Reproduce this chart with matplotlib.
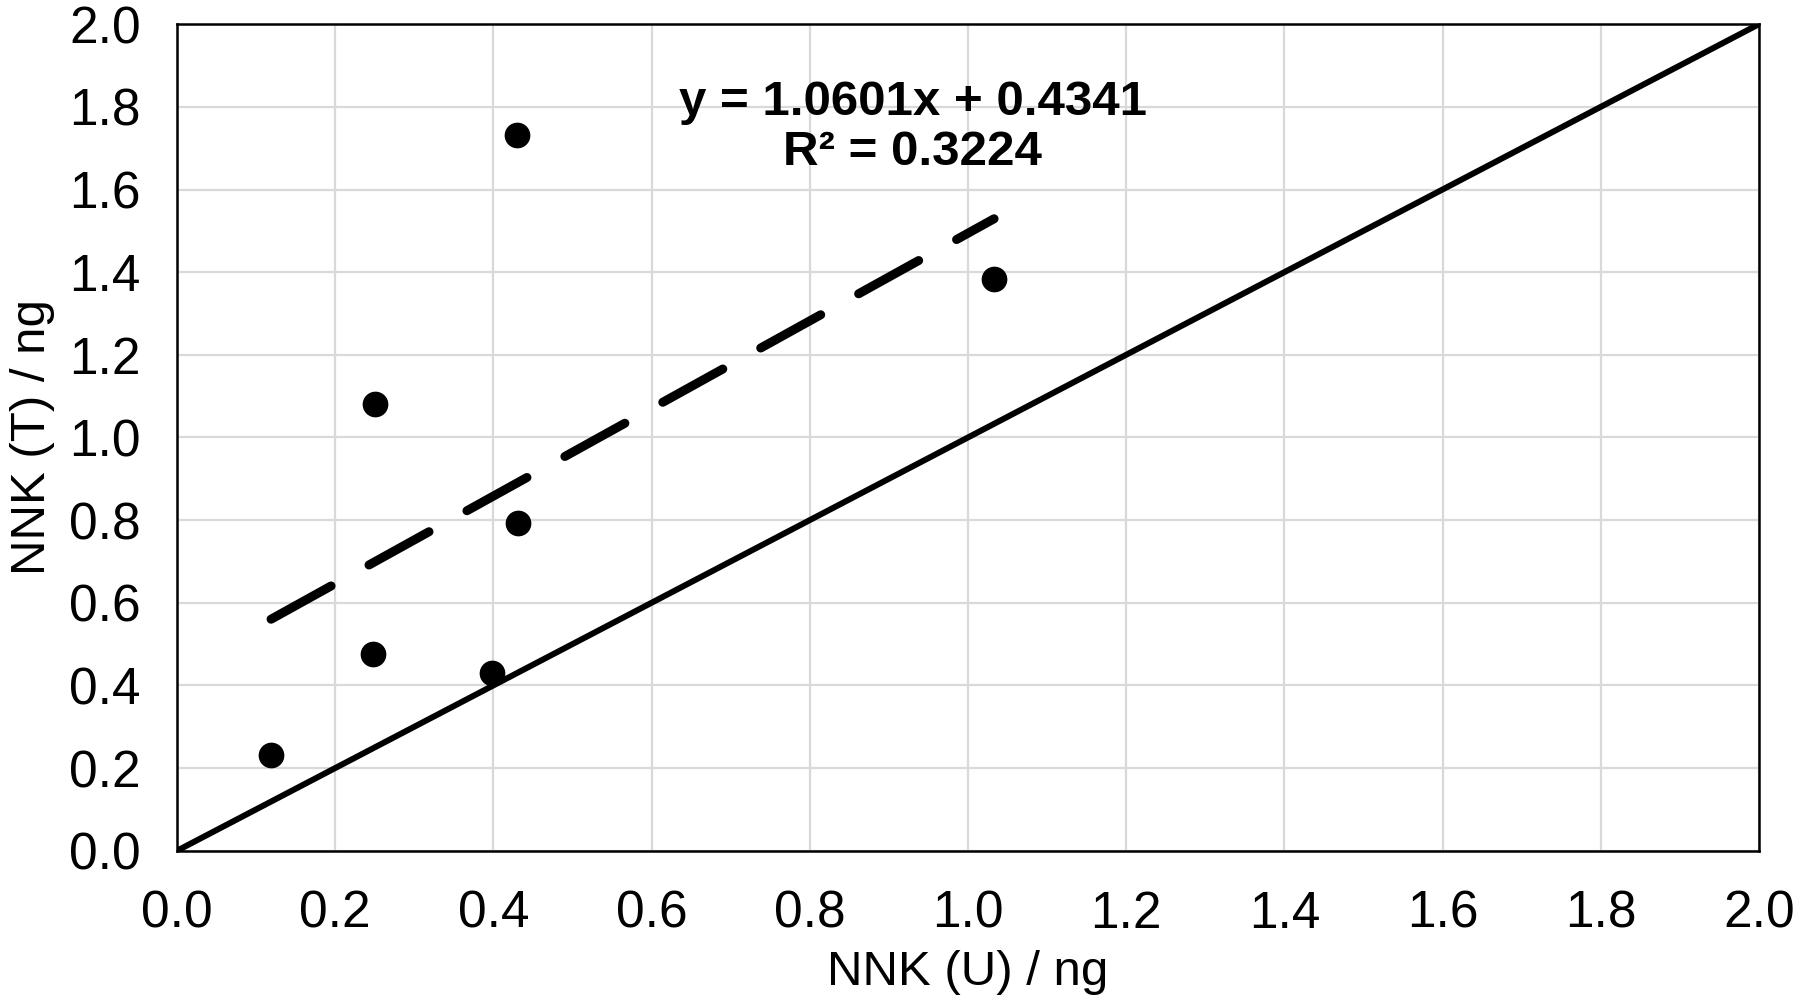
"""NNK (T) vs NNK (U) scatter with linear trendline and 1:1 line."""

import matplotlib

matplotlib.use("Agg")
import matplotlib.pyplot as plt
import numpy as np

plt.rcParams["font.family"] = ["Liberation Sans", "DejaVu Sans"]

# data
nnk_u = [0.119, 0.250, 0.248, 0.398, 0.430, 0.431, 1.033]
nnk_t = [0.231, 1.081, 0.475, 0.431, 1.733, 0.794, 1.383]
slope = 1.0601
intercept = 0.4341
r_squared = 0.3224
ticks = [0.0, 0.2, 0.4, 0.6, 0.8, 1.0, 1.2, 1.4, 1.6, 1.8, 2.0]


def main() -> None:
    fig = plt.figure(figsize=(18, 10.08), dpi=100)
    ax = fig.add_axes([0.0983, 0.156, 0.8789, 0.820])

    ax.set_xlim(0, 2)
    ax.set_ylim(0, 2)
    ax.set_xticks(ticks)
    ax.set_yticks(ticks)
    ax.set_xticklabels([f"{t:.1f}" for t in ticks])
    ax.set_yticklabels([f"{t:.1f}" for t in ticks])
    ax.tick_params(length=0, labelsize=37)
    ax.tick_params(axis="x", pad=28)
    ax.tick_params(axis="y", pad=26)
    ax.grid(color="#d9d9d9", linewidth=1.6)
    ax.set_axisbelow(True)
    for s in ax.spines.values():
        s.set_linewidth(1.8)
        s.set_color("black")

    # 1:1 line
    ax.plot([0, 2], [0, 2], color="black", linewidth=4.3, solid_capstyle="butt")

    # trendline over the data range
    xs = np.array([min(nnk_u), max(nnk_u)])
    ax.plot(xs, slope * xs + intercept, color="black", linewidth=6.5,
            dashes=(7.6, 4.8), dash_capstyle="round")

    ax.plot(nnk_u, nnk_t, "o", color="black", markersize=17.5, zorder=5)

    ax.text(0.93, 1.75, f"y = {slope:.4f}x + {intercept:.4f}\nR² = {r_squared:.4f}",
            ha="center", va="center", fontsize=35.5, fontweight="bold",
            linespacing=1.12)

    ax.set_xlabel("NNK (U) / ng", fontsize=35.5, labelpad=8)
    ax.set_ylabel("NNK (T) / ng", fontsize=35.5, labelpad=10)

    fig.savefig("out.png", dpi=100)
    plt.close(fig)


if __name__ == "__main__":
    main()
